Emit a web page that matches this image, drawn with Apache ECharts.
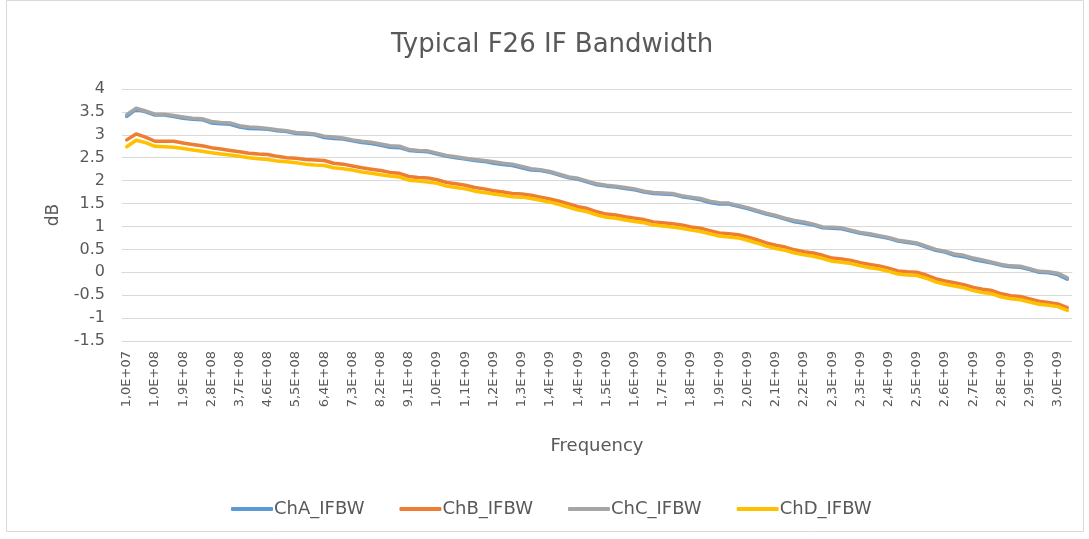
<!DOCTYPE html>
<html>
<head>
<meta charset="utf-8">
<script src="https://cdn.jsdelivr.net/npm/echarts@6/dist/echarts.min.js"></script>
<style>
html,body{margin:0;padding:0;background:#fff;}
#chart{width:1089px;height:539px;}
</style>
</head>
<body>
<div id="chart"></div>
<script>
// Frequencies (Hz): 10 MHz start, 30 MHz step, 101 points
const frequencies = [];
for (let i = 0; i < 101; i++) frequencies.push(1e7 + 3e7 * i);

// Tick labels shown every 3rd category (as in the reference)
const tickLabels = ["1,0E+07","1,0E+08","1,9E+08","2,8E+08","3,7E+08","4,6E+08","5,5E+08","6,4E+08","7,3E+08","8,2E+08","9,1E+08","1,0E+09","1,1E+09","1,2E+09","1,3E+09","1,4E+09","1,4E+09","1,5E+09","1,6E+09","1,7E+09","1,8E+09","1,9E+09","2,0E+09","2,1E+09","2,2E+09","2,3E+09","2,3E+09","2,4E+09","2,5E+09","2,6E+09","2,7E+09","2,8E+09","2,9E+09","3,0E+09"];

const chA = [3.40,3.56,3.50,3.43,3.43,3.40,3.36,3.34,3.33,3.26,3.24,3.23,3.17,3.14,3.13,3.12,3.09,3.07,3.03,3.02,3.00,2.94,2.92,2.91,2.87,2.83,2.81,2.77,2.73,2.72,2.66,2.64,2.63,2.58,2.53,2.50,2.47,2.44,2.42,2.38,2.35,2.33,2.28,2.23,2.22,2.18,2.12,2.06,2.03,1.97,1.91,1.88,1.86,1.83,1.80,1.75,1.72,1.71,1.70,1.65,1.62,1.58,1.52,1.49,1.49,1.44,1.39,1.33,1.27,1.22,1.16,1.10,1.07,1.03,0.97,0.96,0.95,0.90,0.85,0.82,0.78,0.74,0.68,0.65,0.62,0.55,0.48,0.44,0.37,0.34,0.28,0.24,0.20,0.15,0.12,0.11,0.06,0.00,-0.01,-0.05,-0.15];

const chB = [2.89,3.02,2.95,2.86,2.86,2.86,2.82,2.79,2.76,2.72,2.69,2.66,2.63,2.60,2.58,2.57,2.53,2.50,2.49,2.46,2.45,2.44,2.38,2.36,2.32,2.28,2.25,2.22,2.18,2.16,2.09,2.07,2.06,2.02,1.96,1.93,1.90,1.85,1.82,1.78,1.75,1.72,1.71,1.68,1.64,1.60,1.55,1.49,1.43,1.39,1.32,1.27,1.25,1.21,1.18,1.15,1.10,1.08,1.06,1.03,0.99,0.96,0.91,0.86,0.84,0.82,0.77,0.71,0.64,0.59,0.55,0.49,0.45,0.42,0.37,0.31,0.29,0.26,0.21,0.17,0.14,0.09,0.03,0.01,0.00,-0.06,-0.14,-0.19,-0.23,-0.27,-0.33,-0.37,-0.40,-0.47,-0.51,-0.53,-0.58,-0.63,-0.66,-0.69,-0.77];

const chC = [3.44,3.58,3.52,3.45,3.45,3.42,3.39,3.36,3.35,3.29,3.27,3.26,3.20,3.17,3.16,3.14,3.11,3.09,3.05,3.04,3.02,2.97,2.95,2.93,2.89,2.86,2.84,2.80,2.76,2.75,2.68,2.66,2.65,2.60,2.55,2.52,2.49,2.46,2.44,2.41,2.38,2.36,2.31,2.26,2.24,2.20,2.14,2.08,2.05,1.99,1.93,1.90,1.88,1.85,1.82,1.77,1.74,1.73,1.72,1.67,1.64,1.61,1.55,1.52,1.51,1.46,1.41,1.35,1.29,1.24,1.18,1.13,1.10,1.05,0.99,0.98,0.97,0.92,0.87,0.84,0.80,0.76,0.70,0.67,0.64,0.57,0.50,0.46,0.40,0.37,0.31,0.27,0.22,0.17,0.14,0.13,0.08,0.02,0.01,-0.02,-0.12];

const chD = [2.74,2.88,2.83,2.75,2.74,2.73,2.70,2.67,2.64,2.61,2.58,2.56,2.53,2.50,2.48,2.46,2.43,2.41,2.39,2.36,2.34,2.33,2.28,2.26,2.23,2.19,2.16,2.13,2.10,2.08,2.01,1.99,1.97,1.94,1.88,1.85,1.82,1.77,1.74,1.71,1.68,1.65,1.64,1.61,1.57,1.53,1.48,1.42,1.36,1.32,1.25,1.20,1.18,1.14,1.11,1.08,1.03,1.01,0.99,0.96,0.92,0.89,0.84,0.79,0.77,0.75,0.70,0.64,0.57,0.52,0.48,0.42,0.38,0.35,0.30,0.24,0.22,0.19,0.14,0.10,0.07,0.02,-0.04,-0.06,-0.07,-0.13,-0.21,-0.26,-0.30,-0.34,-0.40,-0.44,-0.47,-0.54,-0.58,-0.60,-0.65,-0.70,-0.72,-0.75,-0.83];

const seriesNames = ["ChA_IFBW","ChB_IFBW","ChC_IFBW","ChD_IFBW"];
const seriesColors = ["#5B9BD5","#ED7D31","#A5A5A5","#FFC000"];
const seriesData = [chA, chB, chC, chD];

const FONT = "'DejaVu Sans', sans-serif";
const TXT = "#595959";

const chart = echarts.init(document.getElementById('chart'), null, {renderer: 'canvas'});
chart.setOption({
  animation: false,
  backgroundColor: '#ffffff',
  title: {
    text: 'Typical F26 IF Bandwidth',
    left: 386,
    top: 27,
    textStyle: {fontFamily: FONT, fontSize: 26, fontWeight: 'normal', color: TXT}
  },
  graphic: [{
    type: 'rect',
    shape: {x: 6.5, y: 0.5, width: 1077, height: 531},
    style: {fill: 'none', stroke: '#d9d9d9', lineWidth: 1},
    silent: true
  }],
  legend: {
    data: seriesNames,
    top: 495,
    left: 226,
    itemWidth: 42,
    itemHeight: 4,
    itemGap: 35,
    icon: 'roundRect',
    textStyle: {fontFamily: FONT, fontSize: 18, color: TXT, padding: [0,0,0,-4]}
  },
  grid: {left: 122, right: 17, top: 89, bottom: 198, containLabel: false},
  xAxis: {
    type: 'category',
    data: frequencies,
    boundaryGap: true,
    name: 'Frequency',
    nameLocation: 'middle',
    nameGap: 96,
    nameTextStyle: {fontFamily: FONT, fontSize: 18, color: TXT},
    axisLine: {show: true, lineStyle: {color: '#d9d9d9', width: 1}},
    axisTick: {show: false},
    axisLabel: {
      interval: 2,
      rotate: 90,
      margin: 10,
      fontFamily: FONT,
      fontSize: 13,
      color: TXT,
      formatter: function (v, i) { return tickLabels[Math.round(i / 3)]; }
    },
    splitLine: {show: false}
  },
  yAxis: {
    type: 'value',
    min: -1.5,
    max: 4,
    interval: 0.5,
    name: 'dB',
    nameLocation: 'middle',
    nameGap: 60,
    nameRotate: 90,
    nameTextStyle: {fontFamily: FONT, fontSize: 17, color: TXT},
    axisLine: {show: false},
    axisTick: {show: false},
    axisLabel: {fontFamily: FONT, fontSize: 16, color: TXT, margin: 17},
    splitLine: {lineStyle: {color: '#d9d9d9', width: 1}}
  },
  series: seriesData.map(function (d, k) {
    return {
      name: seriesNames[k],
      type: 'line',
      data: d,
      symbol: 'none',
      smooth: false,
      lineStyle: {color: seriesColors[k], width: 3.5, cap: 'round', join: 'round'},
      itemStyle: {color: seriesColors[k]},
      z: 2 + k
    };
  })
});
</script>
</body>
</html>
